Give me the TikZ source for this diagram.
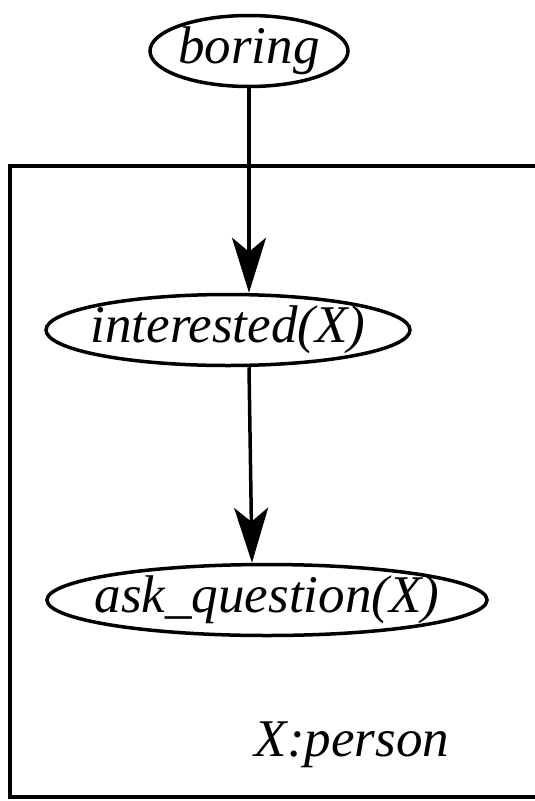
\documentclass[tikz,border=0pt]{standalone}
\usepackage{fontspec}
\setmainfont{Liberation Serif}[ItalicFont={Liberation Serif Italic}]
\usetikzlibrary{shapes.geometric,arrows.meta}
\begin{document}
\begin{tikzpicture}[
    x=1pt,y=-1pt,
    var/.style={ellipse,draw,line width=3.5pt,inner xsep=-150pt,inner ysep=-30pt,
        minimum height=71pt,font=\fontsize{53}{60}\selectfont\itshape},
    dep/.style={line width=3.5pt,-{Stealth[length=55pt,width=34pt,inset=14pt]}},
    plate/.style={line width=3.5pt}
]
\useasboundingbox (0,0) rectangle (535,801);
\node[var,minimum width=198pt] (boring)     at (249,51)  {boring};
\node[var,minimum width=364pt] (interested) at (228,330) {interested(X)};
\node[var,minimum width=440pt] (ask)        at (267,600) {ask\_question(X)};
\node[font=\fontsize{53}{60}\selectfont\itshape] (person) at (352,745) {X:person};

\coordinate (tl) at (10,166);
\coordinate (tr) at (540,166);
\coordinate (bl) at (10,797);
\coordinate (br) at (540,797);
\draw[plate] (tr) -- (tl) -- (bl) -- (br);

\draw[dep] (boring.south) -- (boring.south |- interested.north);
\draw[dep] (boring.south |- interested.south) -- ([xshift=3pt]ask.north -| boring.south);
\end{tikzpicture}
\end{document}
